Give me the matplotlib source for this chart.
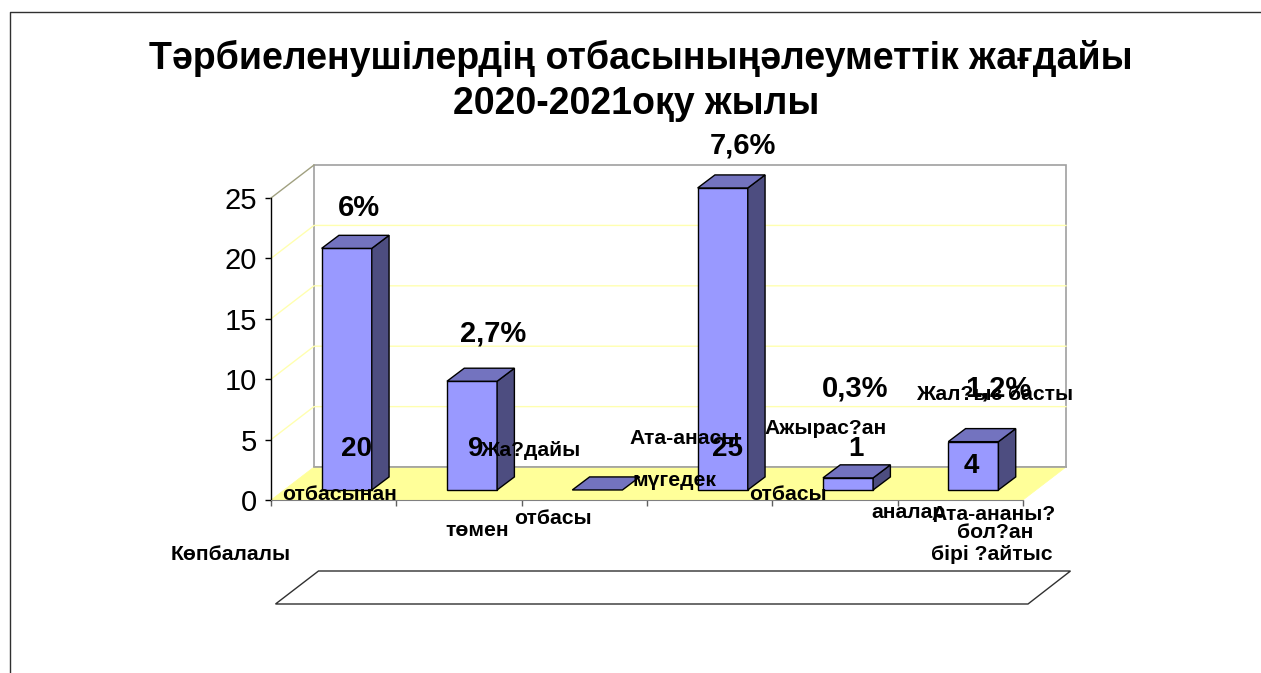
import matplotlib.pyplot as plt
from matplotlib.patches import Polygon

plt.rcParams["font.family"] = ["Liberation Sans", "DejaVu Sans"]

WIDTH = 1261
HEIGHT = 673

TITLE_LINES = ["Тәрбиеленушілердің отбасыныңәлеуметтік жағдайы", "2020-2021оқу жылы"]
TITLE_POS = [(641, 58), (636, 104)]
VALUES = [20, 9, 0, 25, 1, 4]
Y_TICKS = [0, 5, 10, 15, 20, 25]
PERCENTS = ["6%", "2,7%", "", "7,6%", "0,3%", "1,2%"]

# misplaced label fragments, they sit where the original slide left them
FRAGMENTS = [
    "отбасынан", "Көпбалалы", "төмен", "Жа?дайы", "отбасы", "Ата-анасы",
    "мүгедек", "отбасы", "Ажырас?ан", "аналар", "Жал?ыз басты",
    "Ата-ананы?", "бол?ан", "бірі ?айтыс",
]
FRAGMENT_POS = [
    (340, 495), (231, 555), (477, 531), (530, 450), (553, 519), (685, 438),
    (674, 480), (788, 495), (826, 428), (908, 513), (995, 394),
    (994, 514), (995, 532), (992, 554),
]
VALUE_POS = [(356, 449), (476, 449), None, (728, 449), (856, 449), (971, 466)]
PERCENT_POS = [(359, 208), (493, 334), None, (743, 146), (855, 389), (998, 389)]

BAR_FRONT = "#9999FF"
BAR_TOP = "#7373BF"
BAR_SIDE = "#4D4D80"
FLOOR = "#FFFF99"
GRID = "#FFFFB0"
WALL_EDGE = "#A0A0A0"

# 3d offsets in data units (one category wide, y in chart units)
DEPTH_X, DEPTH_Y = 0.343, 2.73
BAR_SHIFT_X, BAR_SHIFT_Y = 0.104, 0.83
BAR_DEPTH_X, BAR_DEPTH_Y = 0.138, 1.08
BAR_WIDTH = 0.4


def px_text(fig, pos, text, size, weight="bold"):
    fig.text(pos[0] / WIDTH, 1 - pos[1] / HEIGHT, text, fontsize=size,
             fontweight=weight, ha="center", va="center", color="black",
             zorder=10)


def poly(ax, points, face, edge, lw=1.0, z=1):
    ax.add_patch(Polygon(points, closed=True, facecolor=face, edgecolor=edge,
                         linewidth=lw, clip_on=False, zorder=z))


def draw_bar(ax, i, value):
    x0 = i + 0.5 - BAR_WIDTH / 2 + BAR_SHIFT_X
    x1 = x0 + BAR_WIDTH
    y0 = BAR_SHIFT_Y
    y1 = y0 + value
    dx, dy = BAR_DEPTH_X, BAR_DEPTH_Y
    z = 4
    if value > 0:
        poly(ax, [(x0, y0), (x1, y0), (x1, y1), (x0, y1)], BAR_FRONT, "black", 1.0, z)
        poly(ax, [(x1, y0), (x1 + dx, y0 + dy), (x1 + dx, y1 + dy), (x1, y1)],
             BAR_SIDE, "black", 1.0, z)
    poly(ax, [(x0, y1), (x1, y1), (x1 + dx, y1 + dy), (x0 + dx, y1 + dy)],
         BAR_TOP, "black", 1.0, z)


def main():
    fig = plt.figure(figsize=(WIDTH / 100, HEIGHT / 100), dpi=100)

    ax = fig.add_axes([271 / WIDTH, (HEIGHT - 500) / HEIGHT, 752 / WIDTH, 302 / HEIGHT])
    ax.set_xlim(0, 6)
    ax.set_ylim(0, 25)
    ax.patch.set_visible(False)

    # back wall and floor
    top = 25 + DEPTH_Y
    poly(ax, [(DEPTH_X, DEPTH_Y), (6 + DEPTH_X, DEPTH_Y), (6 + DEPTH_X, top), (DEPTH_X, top)],
         "white", WALL_EDGE, 1.2)
    poly(ax, [(0, 0), (6, 0), (6 + DEPTH_X, DEPTH_Y), (DEPTH_X, DEPTH_Y)], FLOOR, FLOOR, 0.5, 2)
    ax.plot([DEPTH_X, 6 + DEPTH_X], [DEPTH_Y, DEPTH_Y], color=WALL_EDGE, lw=1.2, zorder=2,
            clip_on=False)
    ax.plot([0, DEPTH_X], [25, top], color="#A0A080", lw=1.0, zorder=2, clip_on=False)

    for t in Y_TICKS[1:-1]:
        ax.plot([0, DEPTH_X, 6 + DEPTH_X], [t, t + DEPTH_Y, t + DEPTH_Y], color=GRID,
                lw=1.0, zorder=1.5, clip_on=False)

    for i, v in enumerate(VALUES):
        draw_bar(ax, i, v)

    ax.set_yticks(Y_TICKS)
    ax.set_yticklabels([str(t) for t in Y_TICKS], fontsize=21)
    ax.set_xticks(range(7))
    ax.set_xticklabels([])
    ax.tick_params(axis="y", length=4.5, width=1, pad=5.5)
    ax.tick_params(axis="x", length=4, width=1, direction="out", color="#606060")
    for side in ("top", "right"):
        ax.spines[side].set_visible(False)
    ax.spines["left"].set_linewidth(1.0)
    ax.spines["bottom"].set_color("#808080")

    # empty legend box under the chart
    box = [(275.5, 604), (318.5, 571), (1070.5, 571), (1028, 604)]
    fig.add_artist(Polygon([(x / WIDTH, 1 - y / HEIGHT) for x, y in box], closed=True,
                           transform=fig.transFigure, facecolor="white",
                           edgecolor="#303030", linewidth=1.0))

    # slide frame, only top and left show in the crop
    fig.add_artist(plt.Line2D([9.5 / WIDTH, 9.5 / WIDTH, 1], [0, 1 - 11.5 / HEIGHT, 1 - 11.5 / HEIGHT],
                              transform=fig.transFigure, color="#303030", lw=1.0))

    for pos, line in zip(TITLE_POS, TITLE_LINES):
        px_text(fig, pos, line, 27)

    for pos, text in zip(VALUE_POS, VALUES):
        if pos:
            px_text(fig, pos, str(text), 20)
    for pos, text in zip(PERCENT_POS, PERCENTS):
        if pos:
            px_text(fig, pos, text, 21)
    for pos, text in zip(FRAGMENT_POS, FRAGMENTS):
        px_text(fig, pos, text, 15.2)

    fig.savefig("out.png", dpi=100)


if __name__ == "__main__":
    main()
